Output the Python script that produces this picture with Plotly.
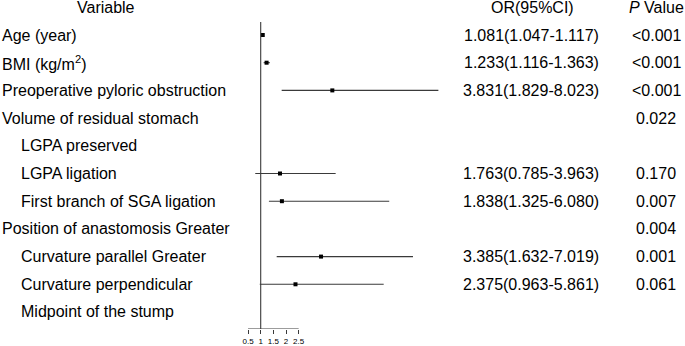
import plotly.graph_objects as go

# ---- data ----
variables = ["Age (year)", "BMI (kg/m<sup>2</sup>)", "Preoperative pyloric obstruction",
             "Volume of residual stomach", "LGPA preserved", "LGPA ligation",
             "First branch of SGA ligation", "Position of anastomosis Greater",
             "Curvature parallel Greater", "Curvature perpendicular", "Midpoint of the stump"]
indented = [False, False, False, False, True, True, True, False, True, True, True]
or_vals = [1.081, 1.233, 3.831, None, None, 1.763, 1.838, None, 3.385, 2.375, None]
ci_low = [1.047, 1.116, 1.829, None, None, 0.785, 1.325, None, 1.632, 0.963, None]
ci_high = [1.117, 1.363, 8.023, None, None, 3.963, 6.080, None, 7.019, 5.861, None]
p_values = ["<0.001", "<0.001", "<0.001", "0.022", "", "0.170", "0.007", "0.004", "0.001", "0.061", ""]
tick_vals = [0.5, 1, 1.5, 2, 2.5]
tick_text = ["0.5", "1", "1.5", "2", "2.5"]

W, H = 685, 346
FONT = "Arial, Liberation Sans, sans-serif"
FS = 16
LINE = "#3a3a3a"

rows = list(range(1, len(variables) + 1))
y_bottom = 11.614

fig = go.Figure()

# CI lines
for r, o, lo, hi in zip(rows, or_vals, ci_low, ci_high):
    if o is None:
        continue
    fig.add_trace(go.Scatter(x=[lo, hi], y=[r, r], mode="lines",
                             line=dict(color=LINE, width=1.1), hoverinfo="skip",
                             showlegend=False))

# points
pts = [(r, o) for r, o in zip(rows, or_vals) if o is not None]
fig.add_trace(go.Scatter(x=[p[1] for p in pts], y=[p[0] for p in pts], mode="markers",
                         marker=dict(symbol="square", size=4, color="black"),
                         showlegend=False, hoverinfo="skip"))

# reference line at OR = 1
fig.add_trace(go.Scatter(x=[1, 1], y=[0.53, y_bottom], mode="lines",
                         line=dict(color=LINE, width=1.1), showlegend=False, hoverinfo="skip"))
# axis baseline spanning tick range
fig.add_trace(go.Scatter(x=[tick_vals[0], tick_vals[-1]], y=[y_bottom, y_bottom], mode="lines",
                         line=dict(color=LINE, width=1.1), showlegend=False, hoverinfo="skip"))

# text columns
def ann(x_px, r, text, anchor):
    fig.add_annotation(x=x_px / W, xref="paper", y=r, yref="y", text=text,
                       showarrow=False, xanchor=anchor, yanchor="middle",
                       font=dict(family=FONT, size=FS, color="black"))

ann(106, 0, "Variable", "center")
ann(532, 0, "OR(95%CI)", "center")
ann(656, 0, "<i>P</i> Value", "center")

for r, v, ind, o, lo, hi, p in zip(rows, variables, indented, or_vals, ci_low, ci_high, p_values):
    ann(19 if ind else 0, r, v, "left")
    if o is not None:
        ann(531, r, f"{o:.3f}({lo:.3f}-{hi:.3f})", "center")
    if p:
        ann(656, r, p, "center")

px_per_unit = 25.3
x0_px = 260.7
fig.update_layout(
    width=W, height=H,
    margin=dict(l=0, r=0, t=0, b=H - 329),
    plot_bgcolor="white", paper_bgcolor="white",
    xaxis=dict(range=[1 - x0_px / px_per_unit, 1 + (W - x0_px) / px_per_unit],
               showgrid=False, zeroline=False, showline=False,
               tickmode="array", tickvals=tick_vals, ticktext=tick_text,
               ticks="outside", ticklen=4, tickwidth=1.1, tickcolor=LINE,
               tickfont=dict(family=FONT, size=8, color="black")),
    yaxis=dict(range=[y_bottom, -7.3 / 27.7], showgrid=False, zeroline=False,
               showline=False, showticklabels=False, ticks=""),
)

fig.write_html("out.html", config={"displayModeBar": False},
               post_script="document.body.style.margin='0';document.body.style.overflow='hidden';")
